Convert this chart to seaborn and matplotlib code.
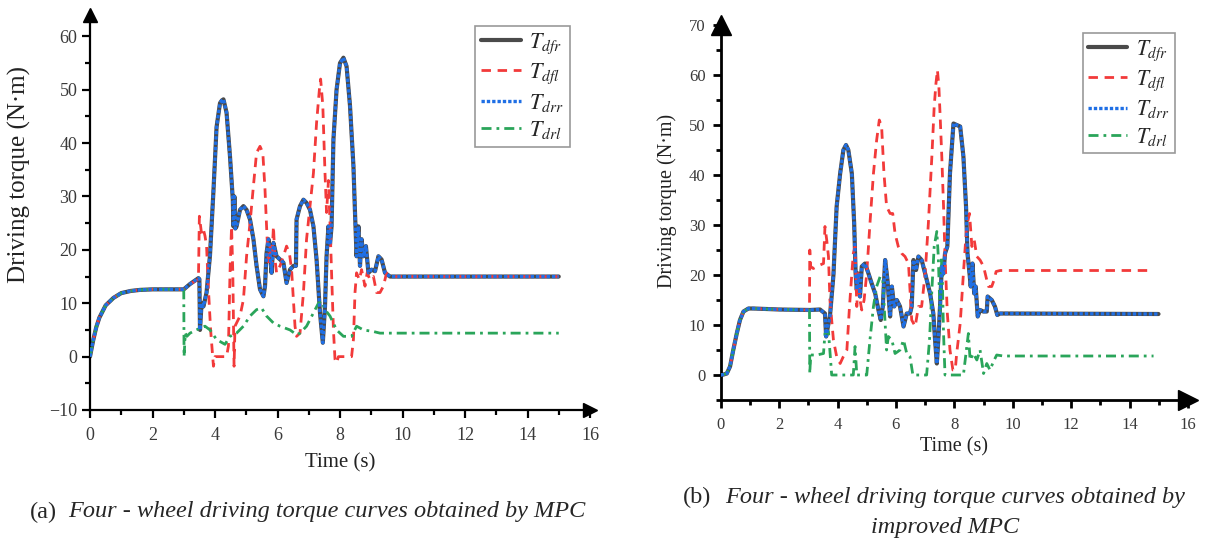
import matplotlib
matplotlib.use("Agg")
import matplotlib.pyplot as plt
import seaborn as sns
from matplotlib.ticker import MultipleLocator

# ---------------- data (time s, torque N·m) ----------------
SERIES_LABELS = [r"$T_{dfr}$", r"$T_{dfl}$", r"$T_{drr}$", r"$T_{drl}$"]
X_TICKS = list(range(0, 17, 2))

left_front_right = [
    (0, 0), (0.1, 3), (0.2, 5.5), (0.3, 7.3), (0.5, 9.6), (0.75, 11), (1.0, 11.9),
    (1.3, 12.3), (1.6, 12.5), (2.0, 12.6), (3.0, 12.6), (3.2, 13.6), (3.47, 14.7),
    (3.5, 14.5), (3.52, 5), (3.57, 10), (3.63, 9.4), (3.73, 12), (3.84, 19), (3.95, 31),
    (4.05, 43), (4.16, 47.5), (4.22, 48), (4.27, 48.2), (4.37, 45.7), (4.48, 37.5),
    (4.57, 29.4), (4.59, 24.4), (4.62, 30), (4.65, 24), (4.69, 24.4), (4.8, 27.5),
    (4.91, 28.2), (5.01, 27.5), (5.12, 25.7), (5.23, 22), (5.33, 17), (5.44, 12.6),
    (5.55, 11.3), (5.6, 13.2), (5.65, 19.4), (5.71, 22), (5.76, 19.4), (5.81, 15.7),
    (5.87, 21.3), (5.97, 18.8), (6.08, 18.2), (6.19, 17.6), (6.29, 13.8), (6.4, 16.3),
    (6.51, 17), (6.59, 17), (6.61, 25.7), (6.72, 28.2), (6.83, 29.4), (6.93, 28.8),
    (7.04, 27.5), (7.15, 24.4), (7.25, 18.2), (7.36, 8.2), (7.45, 2.6), (7.52, 9.4),
    (7.57, 18.8), (7.63, 24.4), (7.68, 21), (7.73, 24.4), (7.79, 40.7), (7.89, 50),
    (8.0, 55), (8.11, 56), (8.21, 54.4), (8.32, 47), (8.43, 35.7), (8.48, 27),
    (8.53, 18.8), (8.59, 24.4), (8.64, 17), (8.69, 22), (8.75, 18.8), (8.83, 20.7),
    (8.91, 15.7), (9.01, 16.3), (9.12, 16), (9.23, 18.8), (9.33, 18.2), (9.44, 15.7),
    (9.6, 15), (15.0, 15),
]
left_rear_right = left_front_right  # curves coincide in the figure

left_front_left = [
    (0, 0), (0.1, 3), (0.2, 5.5), (0.3, 7.3), (0.5, 9.6), (0.75, 11), (1.0, 11.9),
    (1.3, 12.3), (1.6, 12.5), (2.0, 12.6), (3.0, 12.6), (3.2, 13.6), (3.47, 14.5),
    (3.5, 26.3), (3.57, 23), (3.63, 23.8), (3.68, 22.6), (3.73, 20.7), (3.79, 12.6),
    (3.86, 5), (3.95, -1.8), (4.0, 0), (4.37, 0), (4.43, 2), (4.48, 15.7), (4.53, 24.4),
    (4.57, 15.7), (4.61, -1.8), (4.64, 5.7), (4.69, 6.3), (4.8, 7.6), (4.91, 10.7),
    (5.01, 18.8), (5.12, 25), (5.23, 32), (5.33, 38.2), (5.44, 39.4), (5.53, 38.2),
    (5.6, 31.3), (5.65, 24.4), (5.71, 17), (5.76, 20.7), (5.81, 17), (5.87, 24.4),
    (5.92, 18.2), (5.97, 15.7), (6.08, 17), (6.19, 18.8), (6.29, 20.7), (6.38, 19.4),
    (6.45, 16.3), (6.56, 5.7), (6.61, 3.8), (6.72, 4.4), (6.83, 12), (6.93, 22),
    (7.04, 28.2), (7.15, 34.4), (7.25, 43.8), (7.34, 50), (7.38, 52), (7.45, 47),
    (7.52, 34.4), (7.57, 27), (7.63, 33), (7.68, 25), (7.73, 15.7), (7.79, 5),
    (7.84, -0.5), (7.89, -1.2), (7.95, 0), (8.37, 0), (8.43, 3.2), (8.48, 12),
    (8.53, 15.7), (8.62, 14.4), (8.69, 16.3), (8.8, 13.2), (8.87, 15.7), (8.96, 14.4),
    (9.07, 15), (9.17, 12), (9.28, 12), (9.39, 13.2), (9.49, 15.7), (9.6, 15), (15.0, 15),
]

left_rear_left = [
    (0, 0), (0.1, 3), (0.2, 5.5), (0.3, 7.3), (0.5, 9.6), (0.75, 11), (1.0, 11.9),
    (1.3, 12.3), (1.6, 12.5), (2.0, 12.6), (3.0, 12.6), (3.01, 0), (3.05, 4.4),
    (3.1, 3.8), (3.2, 4.4), (3.4, 5), (3.68, 5.7), (3.84, 5), (4.05, 3.2), (4.32, 2.3),
    (4.48, 3.8), (4.69, 4.4), (4.91, 5.7), (5.12, 7.6), (5.33, 8.8), (5.49, 9.1),
    (5.65, 7.6), (5.87, 6.3), (6.08, 5.7), (6.4, 5), (6.61, 4.1), (6.72, 4.4),
    (6.93, 5.7), (7.15, 8.2), (7.31, 10), (7.41, 10.4), (7.52, 8.8), (7.68, 7.6),
    (7.89, 5), (8.11, 3.8), (8.37, 3.8), (8.53, 5.7), (8.75, 5), (9.07, 4.7),
    (9.28, 4.4), (15.0, 4.4),
]

right_front_right = [
    (0, 0), (0.1, 0.1), (0.21, 0.3), (0.32, 1.7), (0.43, 5), (0.55, 8.3), (0.66, 11),
    (0.78, 12.7), (0.95, 13.3), (1.12, 13.3), (2.0, 13.1), (3.06, 13), (3.4, 13.1),
    (3.57, 12.3), (3.61, 7.7), (3.69, 10.3), (3.74, 11.7), (3.86, 20), (3.97, 33.7),
    (4.09, 40.3), (4.2, 45), (4.29, 46), (4.37, 45), (4.49, 40.3), (4.57, 30.3),
    (4.62, 20.3), (4.66, 17), (4.71, 20.3), (4.77, 15.7), (4.83, 21.7), (4.94, 22.3),
    (5.06, 20.3), (5.17, 18.3), (5.29, 16.3), (5.4, 13), (5.48, 11), (5.55, 13.7),
    (5.63, 23), (5.71, 19), (5.8, 11.7), (5.86, 17.7), (5.94, 13.7), (6.03, 15),
    (6.14, 13.7), (6.26, 9.7), (6.37, 12.3), (6.48, 12.3), (6.54, 13.7), (6.6, 23),
    (6.69, 21), (6.77, 23.7), (6.88, 23), (7.0, 20.3), (7.17, 16.3), (7.28, 12.3),
    (7.34, 7), (7.4, 2.3), (7.45, 7), (7.51, 13.7), (7.57, 21.7), (7.63, 20.3),
    (7.68, 24.3), (7.76, 25.7), (7.85, 40.3), (7.97, 50.3), (8.08, 50), (8.2, 49.7),
    (8.31, 43.7), (8.4, 33.7), (8.45, 24.3), (8.52, 20.3), (8.56, 17.7), (8.62, 22.3),
    (8.68, 16.3), (8.73, 17.7), (8.8, 11.7), (8.88, 13), (8.99, 12.7), (9.11, 12.7),
    (9.14, 15.7), (9.28, 15), (9.39, 13.7), (9.47, 12), (9.56, 12.3), (14.99, 12.2),
]
right_rear_right = right_front_right  # curves coincide in the figure

right_front_left = [
    (0, 0), (0.1, 0.1), (0.21, 0.3), (0.32, 1.7), (0.43, 5), (0.55, 8.3), (0.66, 11),
    (0.78, 12.7), (0.95, 13.3), (1.12, 13.3), (2.0, 13.1), (3.04, 13), (3.05, 25),
    (3.08, 21.7), (3.17, 21.3), (3.4, 22), (3.52, 22.3), (3.57, 29.7), (3.63, 27),
    (3.69, 23.7), (3.74, 15), (3.86, 7), (3.97, 3.7), (4.09, 2.3), (4.2, 3.7),
    (4.32, 5), (4.41, 13.7), (4.49, 20.3), (4.54, 24.3), (4.6, 25.7), (4.66, 13.7),
    (4.71, 20.3), (4.77, 15), (4.83, 13), (4.91, 15), (5.0, 20.3), (5.11, 30.3),
    (5.23, 40.3), (5.34, 47), (5.43, 51), (5.51, 49.7), (5.59, 40.3), (5.68, 33.7),
    (5.8, 32.3), (5.89, 32.3), (5.97, 28.3), (6.08, 25.7), (6.2, 24.3), (6.31, 23.7),
    (6.43, 22.3), (6.54, 11), (6.66, 9.7), (6.77, 13.7), (6.88, 13.7), (7.0, 20.3),
    (7.11, 30.3), (7.23, 43.7), (7.31, 53.7), (7.37, 58.3), (7.42, 61), (7.47, 57.7),
    (7.51, 52.3), (7.57, 43.7), (7.63, 33.7), (7.68, 23.7), (7.76, 12.3), (7.85, 5),
    (7.95, 1), (8.03, 1), (8.08, 4.3), (8.2, 10.3), (8.31, 20.3), (8.42, 29.7),
    (8.52, 32.3), (8.6, 25.7), (8.68, 27), (8.77, 23.7), (8.88, 23), (9.0, 21.7),
    (9.11, 19), (9.17, 17.7), (9.28, 17.7), (9.36, 19), (9.43, 20.7), (9.57, 20.9),
    (14.82, 20.9),
]

right_rear_left = [
    (0, 0), (0.1, 0.1), (0.21, 0.3), (0.32, 1.7), (0.43, 5), (0.55, 8.3), (0.66, 11),
    (0.78, 12.7), (0.95, 13.3), (1.12, 13.3), (2.0, 13.1), (3.04, 13), (3.05, 0.3),
    (3.08, 4), (3.29, 4), (3.52, 4.3), (3.57, 8.3), (3.69, 8.7), (3.8, 0), (4.54, 0),
    (4.6, 5.7), (4.66, 0), (5.0, 0), (5.11, 7), (5.23, 13.7), (5.34, 17.7), (5.46, 19.7),
    (5.55, 19), (5.63, 10.3), (5.68, 5), (5.74, 7.7), (5.86, 7), (5.97, 4.3), (6.14, 5),
    (6.26, 7), (6.37, 4.3), (6.48, 3.7), (6.58, 0), (7.05, 0), (7.15, 7), (7.23, 17),
    (7.31, 25.7), (7.4, 28.7), (7.45, 23.7), (7.51, 12.3), (7.57, 23.7), (7.63, 8.3),
    (7.68, 0), (8.31, 0), (8.48, 8.3), (8.54, 3), (8.65, 4.3), (8.77, 3), (8.88, 5),
    (9.0, 0.3), (9.11, 2.3), (9.22, 1), (9.34, 2.7), (9.45, 4), (9.68, 3.8), (14.82, 3.8),
]

CAPTION_A = ("(a)", "Four - wheel driving torque curves obtained by MPC")
CAPTION_B = ("(b)", "Four - wheel driving torque curves obtained by", "improved MPC")

# ---------------- style ----------------
sns.set_style("ticks")
plt.rcParams["font.family"] = ["Liberation Serif", "DejaVu Serif"]
plt.rcParams["mathtext.fontset"] = "stix"

STYLES = [
    dict(color="#4a4a4a", lw=3.0, dashes=None, z=2),
    dict(color="#f23a3a", lw=2.0, dashes=(3.4, 2.4), z=3),
    dict(color="#1f6fe5", lw=2.4, dashes=(1.0, 0.6), z=4),
    dict(color="#2aa55a", lw=2.0, dashes=(3.6, 1.8, 1.0, 1.8), z=3),
]

W, H = 1206, 540
fig = plt.figure(figsize=(W / 100, H / 100), dpi=100)


def px_axes(x0, x1, y_bottom, y_top):
    return fig.add_axes([x0 / W, (H - y_bottom) / H, (x1 - x0) / W, (y_bottom - y_top) / H])


def draw(ax, series, ylim, tick_fs, spine_w, arrow_ms, legend_anchor, legend_fs,
         ylabel_fs, xlabel_fs, ylab_xy, xlab_y, ytick_pad, xtick_pad, handlelen):
    for data, label, st in zip(series, SERIES_LABELS, STYLES):
        t = [p[0] for p in data]
        v = [p[1] for p in data]
        sns.lineplot(x=t, y=v, ax=ax, estimator=None, sort=False, color=st["color"],
                     linewidth=st["lw"], label=label, zorder=st["z"])
        line = ax.lines[-1]
        if st["dashes"] is not None:
            line.set_dashes(st["dashes"])
            line.set_dash_capstyle("butt")
    ax.set_xlim(0, 16)
    ax.set_ylim(*ylim)
    ax.xaxis.set_major_locator(MultipleLocator(2))
    ax.xaxis.set_minor_locator(MultipleLocator(1))
    ax.yaxis.set_major_locator(MultipleLocator(10))
    ax.yaxis.set_minor_locator(MultipleLocator(5))
    ax.set_xticks(X_TICKS)
    for s in ["top", "right"]:
        ax.spines[s].set_visible(False)
    for s in ["left", "bottom"]:
        ax.spines[s].set_linewidth(spine_w)
        ax.spines[s].set_color("black")
    ax.tick_params(which="major", direction="out", length=6, width=spine_w,
                   labelsize=tick_fs, labelcolor="#3a3a3a", color="black")
    ax.tick_params(which="minor", direction="out", length=3.5, width=spine_w, color="black")
    ax.tick_params(axis="y", pad=ytick_pad)
    ax.tick_params(axis="x", pad=xtick_pad)
    ax.set_facecolor("white")
    ax.grid(False)
    # axis arrows
    ax.plot(1, 0, ">", color="black", ms=arrow_ms, transform=ax.transAxes, clip_on=False)
    ax.plot(0, 1, "^", color="black", ms=arrow_ms, transform=ax.transAxes, clip_on=False)
    ax.set_xlabel("Time (s)", fontsize=xlabel_fs, color="#222222")
    ax.set_ylabel("Driving torque (N·m)", fontsize=ylabel_fs, color="#222222")
    ax.yaxis.set_label_coords(*ylab_xy)
    ax.xaxis.set_label_coords(0.5, xlab_y)
    handles, labels = ax.get_legend_handles_labels()
    leg = ax.legend(handles, labels, loc="upper left", bbox_to_anchor=legend_anchor,
                    bbox_transform=fig.transFigure, frameon=True, fancybox=False,
                    edgecolor="#999999", framealpha=1, fontsize=legend_fs,
                    handlelength=handlelen, labelspacing=0.25, borderpad=0.25,
                    handletextpad=0.4, borderaxespad=0)
    leg.get_frame().set_linewidth(1.2)


axL = px_axes(90, 590, 410, 15)
draw(axL, [left_front_right, left_front_left, left_rear_right, left_rear_left],
     ylim=(-10, 64), tick_fs=13, spine_w=1.6, arrow_ms=10,
     legend_anchor=(475 / W, 1 - 26 / H), legend_fs=16,
     ylabel_fs=18, xlabel_fs=15, ylab_xy=(-0.118, 0.595), xlab_y=-0.11,
     ytick_pad=3, xtick_pad=6, handlelen=1.8)

axR = px_axes(720.7, 1188, 400, 25)
draw(axR, [right_front_right, right_front_left, right_rear_right, right_rear_left],
     ylim=(-5, 70), tick_fs=12, spine_w=2.0, arrow_ms=15,
     legend_anchor=(1083 / W, 1 - 33 / H), legend_fs=15.5,
     ylabel_fs=14.5, xlabel_fs=14.5, ylab_xy=(-0.094, 0.531), xlab_y=-0.099,
     ytick_pad=5, xtick_pad=6, handlelen=1.8)

# captions
cap_fs = 17.5
fig.text(30 / W, 1 - 512 / H, CAPTION_A[0], fontsize=cap_fs, va="center", ha="left")
fig.text(68 / W, 1 - 512 / H, CAPTION_A[1], fontsize=cap_fs, va="center", ha="left",
         style="italic")
fig.text(683 / W, 1 - 497 / H, CAPTION_B[0], fontsize=cap_fs, va="center", ha="left")
fig.text(725 / W, 1 - 497 / H, CAPTION_B[1], fontsize=cap_fs, va="center", ha="left",
         style="italic")
fig.text(945 / W, 1 - 527 / H, CAPTION_B[2], fontsize=cap_fs, va="center", ha="center",
         style="italic")

fig.savefig("out.png", dpi=100, facecolor="white")
